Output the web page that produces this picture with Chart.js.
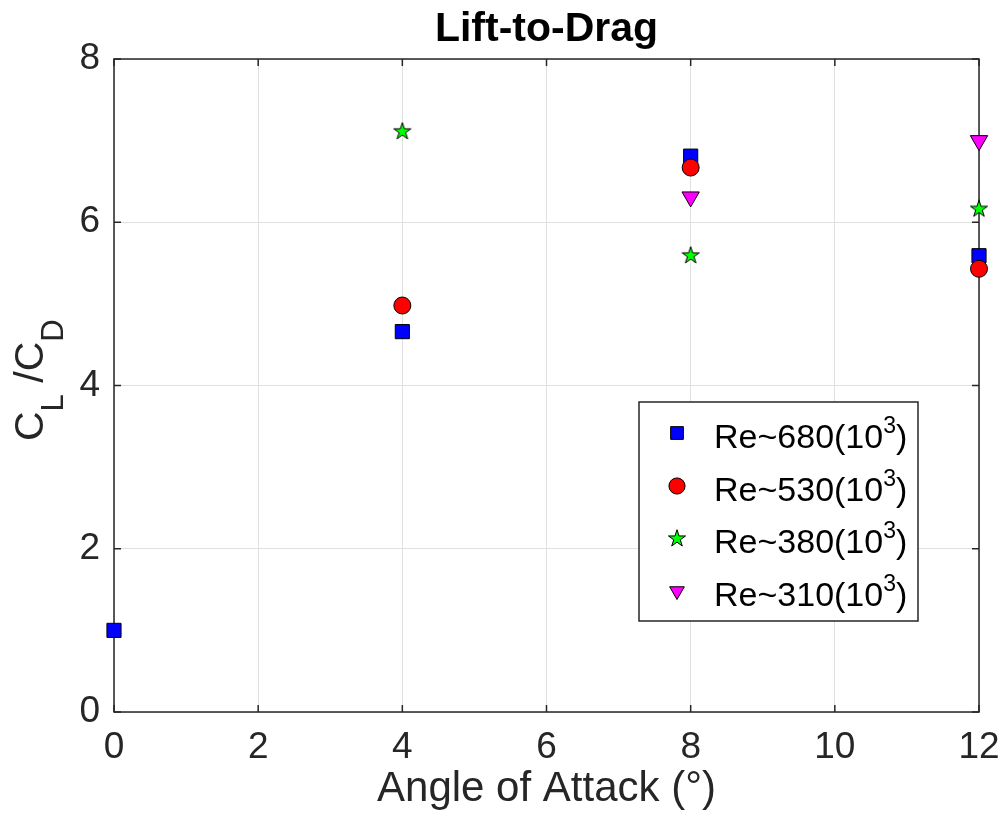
<!DOCTYPE html>
<html>
<head>
<meta charset="utf-8">
<script src="https://cdn.jsdelivr.net/npm/chart.js@4.4.0/dist/chart.umd.min.js"></script>
<style>
  body { margin: 0; background: #fff; }
</style>
</head>
<body>
<canvas id="liftDragChart" width="1007" height="835"></canvas>
<script>
// lift-to-drag ratio per angle of attack, one series per Reynolds number
var angles680 = [0, 4, 8, 12];
var ld680 = [1.0, 4.66, 6.81, 5.59];
var angles530 = [4, 8, 12];
var ld530 = [4.98, 6.67, 5.43];
var angles380 = [4, 8, 12];
var ld380 = [7.12, 5.60, 6.17];
var angles310 = [8, 12];
var ld310 = [6.31, 7.00];

var reynolds = ['680', '530', '380', '310'];
var xTicks = [0, 2, 4, 6, 8, 10, 12];
var yTicks = [0, 2, 4, 6, 8];

var FONT = "'Liberation Sans', Arial, Helvetica, sans-serif";
var AXIS_COLOR = '#262626';

// filled five-point star marker (Chart.js 'star' is only a line cross)
function makeStar(R) {
    var s = Math.ceil(R * 2 + 4);
    var c = document.createElement('canvas');
    c.width = s;
    c.height = s;
    var g = c.getContext('2d');
    var cx = s / 2, cy = s / 2 + R * 0.08;
    g.beginPath();
    for (var i = 0; i < 10; i++) {
        var ang = -Math.PI / 2 + i * Math.PI / 5;
        var r = (i % 2) ? R * 0.382 : R;
        var px = cx + Math.cos(ang) * r, py = cy + Math.sin(ang) * r;
        if (i === 0) g.moveTo(px, py); else g.lineTo(px, py);
    }
    g.closePath();
    g.fillStyle = '#00ff00';
    g.fill();
    g.lineWidth = 1;
    g.strokeStyle = '#000';
    g.stroke();
    return c;
}
var starMarker = makeStar(9);

function toPoints(xs, ys) {
    return xs.map(function(x, i) { return { x: x, y: ys[i] }; });
}

var seriesStyle = [
    { pointStyle: 'rect', pointRadius: 10, pointRotation: 0, color: '#0000ff' },
    { pointStyle: 'circle', pointRadius: 8.5, pointRotation: 0, color: '#ff0000' },
    { pointStyle: starMarker, pointRadius: 9, pointRotation: 0, color: '#00ff00' },
    { pointStyle: 'triangle', pointRadius: 10, pointRotation: 180, color: '#ff00ff' }
];

var seriesData = [
    toPoints(angles680, ld680),
    toPoints(angles530, ld530),
    toPoints(angles380, ld380),
    toPoints(angles310, ld310)
];

var datasets = seriesData.map(function(d, i) {
    var st = seriesStyle[i];
    return {
        label: 'Re~' + reynolds[i] + '(10^3)',
        data: d,
        pointStyle: st.pointStyle,
        pointRadius: st.pointRadius,
        pointHoverRadius: st.pointRadius,
        pointRotation: st.pointRotation,
        backgroundColor: st.color,
        borderColor: '#000',
        pointBorderWidth: 1,
        showLine: false,
        clip: false,
        order: 4 - i
    };
});

// legend marker, same shapes as the plotted points
function drawMarker(ctx, i, x, y) {
    var st = seriesStyle[i];
    ctx.save();
    ctx.fillStyle = st.color;
    ctx.strokeStyle = '#000';
    ctx.lineWidth = 1;
    ctx.beginPath();
    if (st.pointStyle === 'rect') {
        var h = st.pointRadius * Math.SQRT1_2 * 0.9;
        ctx.rect(x - h, y - h, 2 * h, 2 * h);
    } else if (st.pointStyle === 'circle') {
        ctx.arc(x, y, st.pointRadius * 0.95, 0, Math.PI * 2);
    } else if (st.pointStyle === 'triangle') {
        var r = st.pointRadius * 0.85;
        var a = Math.PI;
        ctx.moveTo(x + Math.sin(a) * r, y - Math.cos(a) * r);
        a += 2 * Math.PI / 3;
        ctx.lineTo(x + Math.sin(a) * r, y - Math.cos(a) * r);
        a += 2 * Math.PI / 3;
        ctx.lineTo(x + Math.sin(a) * r, y - Math.cos(a) * r);
        ctx.closePath();
    } else {
        ctx.drawImage(st.pointStyle, x - st.pointStyle.width / 2, y - st.pointStyle.height / 2);
        ctx.restore();
        return;
    }
    ctx.fill();
    ctx.stroke();
    ctx.restore();
}

var framePlugin = {
    id: 'matlabFrame',
    beforeDatasetsDraw: function(chart) {
        var ctx = chart.ctx, a = chart.chartArea;
        var xs = chart.scales.x, ys = chart.scales.y;
        ctx.save();
        ctx.strokeStyle = AXIS_COLOR;
        ctx.lineWidth = 1.5;
        ctx.strokeRect(a.left, a.top, a.right - a.left, a.bottom - a.top);
        // ticks point inward on all four sides
        ctx.beginPath();
        xTicks.forEach(function(v) {
            var px = xs.getPixelForValue(v);
            ctx.moveTo(px, a.bottom); ctx.lineTo(px, a.bottom - 7);
            ctx.moveTo(px, a.top); ctx.lineTo(px, a.top + 7);
        });
        yTicks.forEach(function(v) {
            var py = ys.getPixelForValue(v);
            ctx.moveTo(a.left, py); ctx.lineTo(a.left + 7, py);
            ctx.moveTo(a.right, py); ctx.lineTo(a.right - 7, py);
        });
        ctx.stroke();
        ctx.restore();
    },
    afterDraw: function(chart) {
        var ctx = chart.ctx, a = chart.chartArea;
        var mid = (a.left + a.right) / 2;
        ctx.save();

        // title
        ctx.fillStyle = '#000';
        ctx.font = 'bold 41px ' + FONT;
        ctx.textAlign = 'center';
        ctx.textBaseline = 'alphabetic';
        ctx.fillText('Lift-to-Drag', mid, 41);

        // x axis label
        ctx.fillStyle = AXIS_COLOR;
        ctx.font = '42px ' + FONT;
        ctx.fillText('Angle of Attack (\u00B0)', mid, 801);

        // y axis label C_L /C_D, rotated
        ctx.save();
        ctx.translate(43, 441);
        ctx.rotate(-Math.PI / 2);
        ctx.textAlign = 'left';
        var parts = [
            { t: 'C', size: 41, dy: 0 },
            { t: 'L', size: 31, dy: 20 },
            { t: ' /', size: 41, dy: 0 },
            { t: 'C', size: 41, dy: 0 },
            { t: 'D', size: 31, dy: 20 }
        ];
        var px = 0;
        parts.forEach(function(p) {
            ctx.font = p.size + 'px ' + FONT;
            ctx.fillText(p.t, px, p.dy);
            px += ctx.measureText(p.t).width;
        });
        ctx.restore();

        // legend box
        var box = { left: 639, top: 402, right: 918, bottom: 621 };
        ctx.fillStyle = '#fff';
        ctx.fillRect(box.left, box.top, box.right - box.left, box.bottom - box.top);
        ctx.strokeStyle = AXIS_COLOR;
        ctx.lineWidth = 1.5;
        ctx.strokeRect(box.left, box.top, box.right - box.left, box.bottom - box.top);

        var rowY = [433, 486, 538, 591];
        ctx.textAlign = 'left';
        reynolds.forEach(function(re, i) {
            var y = rowY[i];
            drawMarker(ctx, i, 677, y);
            ctx.fillStyle = '#000';
            ctx.font = '34px ' + FONT;
            var base = 'Re~' + re + '(10';
            var x = 714;
            ctx.fillText(base, x, y + 15);
            x += ctx.measureText(base).width;
            ctx.font = '23px ' + FONT;
            ctx.fillText('3', x, y);
            x += ctx.measureText('3').width;
            ctx.font = '34px ' + FONT;
            ctx.fillText(')', x, y + 15);
        });

        ctx.restore();
    }
};

var chart = new Chart(document.getElementById('liftDragChart'), {
    type: 'scatter',
    data: { datasets: datasets },
    options: {
        responsive: false,
        animation: false,
        devicePixelRatio: 1,
        layout: {
            padding: { left: 0, top: 59, right: 28, bottom: 0 }
        },
        plugins: {
            legend: { display: false },
            tooltip: { enabled: false },
            title: { display: false }
        },
        scales: {
            x: {
                type: 'linear',
                min: 0,
                max: 12,
                afterBuildTicks: function(scale) {
                    scale.ticks = xTicks.map(function(v) { return { value: v }; });
                },
                afterFit: function(scale) {
                    scale.height = 123;
                    scale.paddingLeft = 0;
                    scale.paddingRight = 0;
                },
                grid: { color: '#e0e0e0', lineWidth: 1, drawTicks: false },
                border: { display: false },
                ticks: {
                    padding: 14,
                    color: AXIS_COLOR,
                    font: { family: FONT, size: 37 },
                    maxRotation: 0
                }
            },
            y: {
                type: 'linear',
                min: 0,
                max: 8,
                afterBuildTicks: function(scale) {
                    scale.ticks = yTicks.map(function(v) { return { value: v }; });
                },
                afterFit: function(scale) { scale.width = 114; },
                grid: { color: '#e0e0e0', lineWidth: 1, drawTicks: false },
                border: { display: false },
                ticks: {
                    padding: 14,
                    color: AXIS_COLOR,
                    font: { family: FONT, size: 37 }
                }
            }
        }
    },
    plugins: [framePlugin]
});
</script>
</body>
</html>
